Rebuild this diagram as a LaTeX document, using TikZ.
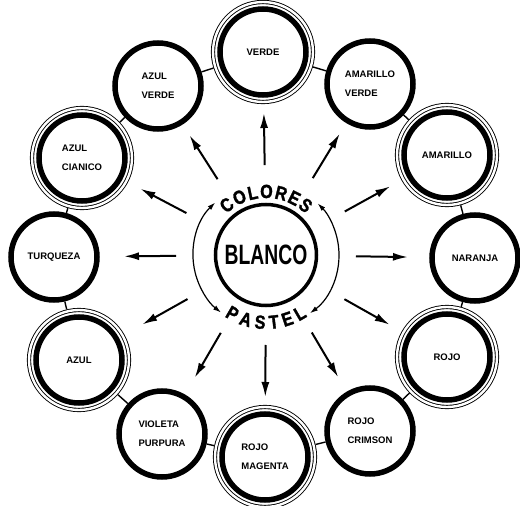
\documentclass[tikz,border=0pt]{standalone}
\usepackage{fontspec}
\setmainfont{Liberation Sans}
\newfontfamily\condfont[FakeStretch=0.69]{Liberation Sans Bold}
\newfontfamily\arcfont[FakeStretch=0.85,FakeBold=1.6]{Liberation Sans Bold}
\usetikzlibrary{arrows.meta,calc,decorations.text}
\begin{document}
\begin{tikzpicture}[x=1pt,y=-1pt,
  lbl/.style={font=\bfseries\fontsize{9.5}{19}\selectfont, align=left},
  single/.style={lbl, circle, draw, line width=5.5pt, minimum size=86pt, inner sep=0pt, fill=white},
  dbl/.style={lbl, circle, draw, line width=0.9pt, double, double distance=2.4pt, minimum size=100pt, inner sep=0pt, outer sep=2.1pt,
    path picture={\draw[line width=5.5pt] (path picture bounding box.center) circle[radius=43pt];}},
  link/.style={line width=1.4pt},
  rarrow/.style={line width=2pt, -{Latex[length=15pt,width=8pt]}},
  ringarc/.style={line width=1.2pt, {Latex[length=8pt,width=5pt]}-{Latex[length=8pt,width=5pt]}},
]
\useasboundingbox (0,0) rectangle (520,506);
\coordinate (C) at (266,255);

% central emblem
\node[circle, draw, line width=3.5pt, minimum size=101pt, inner sep=0pt,
      font=\condfont\fontsize{28}{28}\selectfont] (blanco) at (C) {BLANCO};
\begin{scope}[shift={(C)}, yscale=-1]
  \draw[ringarc] (134:73) coordinate (la) arc[start angle=134, end angle=232, radius=73];
  \draw[ringarc] (-53:73) coordinate (ra) arc[start angle=-53, end angle=45, radius=73];
  \path[decorate, decoration={text along path, text={|\arcfont\fontsize{19}{19}\selectfont|COLORES}, text align={fit to path}}]
    (134:57) arc[start angle=134, end angle=46, radius=57];
  \path[decorate, decoration={text along path, text={|\arcfont\fontsize{19}{19}\selectfont|PASTEL}, text align={fit to path}}]
    (236:74) arc[start angle=236, end angle=304, radius=74];
\end{scope}

% colour circles
\node[dbl]    (c1)  at (263,52)  {VERDE};
\node[single] (c2)  at (370,84)  {AMARILLO\\VERDE};
\node[dbl]    (c3)  at (447,155) {AMARILLO};
\node[single] (c4)  at (475,258) {NARANJA};
\node[dbl]    (c5)  at (447,357) {ROJO};
\node[single] (c6)  at (370,431) {ROJO\\CRIMSON};
\node[dbl]    (c7)  at (265,457) {ROJO\\MAGENTA};
\node[single] (c8)  at (162,434) {VIOLETA\\PURPURA};
\node[dbl]    (c9)  at (79,360)  {AZUL};
\node[single] (c10) at (54,257)  {TURQUEZA};
\node[dbl]    (c11) at (82,158)  {AZUL\\CIANICO};
\node[single] (c12) at (158,86)  {AZUL\\VERDE};

% links between neighbours
\foreach \a/\b in {c1/c2,c2/c3,c3/c4,c4/c5,c5/c6,c6/c7,c7/c8,c8/c9,c9/c10,c10/c11,c11/c12,c12/c1}
  \draw[link] (\a) -- (\b);

% radial arrows
\foreach \i in {1,...,12}{
  \coordinate (t\i) at ($(C)!90pt!(c\i)$);
  \coordinate (h\i) at ($(C)!142pt!(c\i)$);
  \draw[rarrow] (t\i) -- (h\i);
}
\end{tikzpicture}
\end{document}
